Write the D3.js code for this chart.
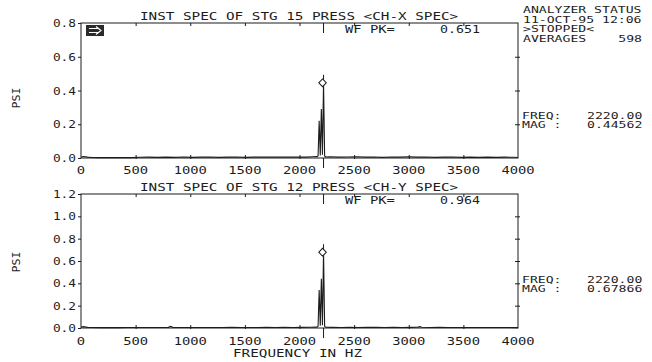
<!DOCTYPE html>
<html>
<head>
<meta charset="utf-8">
<script src="https://cdn.jsdelivr.net/npm/d3@7"></script>
<style>
    body { margin: 0; background: #fff; }
    svg text { font-family: 'DejaVu Sans Mono', monospace; fill: #1c1c1c; }
</style>
</head>
<body>
<svg id="chart"></svg>
<script>
// data

const freqTicks = [0, 500, 1000, 1500, 2000, 2500, 3000, 3500, 4000];
const topYTicks = [0, 0.2, 0.4, 0.6, 0.8];
const bottomYTicks = [0, 0.2, 0.4, 0.6, 0.8, 1.0, 1.2];

const titles = ['INST SPEC OF STG 15 PRESS <CH-X SPEC>', 'INST SPEC OF STG 12 PRESS <CH-Y SPEC>'];
const peakLabels = ['0.651', '0.964'];
const cursorFreq = [2220, 2220];
const cursorMag = [0.44562, 0.67866];
const cursorFreqText = ['2220.00', '2220.00'];
const cursorMagText = ['0.44562', '0.67866'];

const statusLines = ['ANALYZER STATUS', '11-OCT-95 12:06', '>STOPPED<', 'AVERAGES'];
const averages = '598';

const topFreq = [0, 20, 60, 100, 160, 220, 300, 380, 460, 540, 620, 700, 780, 860, 940, 1020, 1100,
    1180, 1260, 1340, 1420, 1500, 1580, 1660, 1740, 1820, 1900, 1980, 2060, 2120, 2160, 2170, 2180,
    2190, 2200, 2210, 2220, 2230, 2240, 2280, 2360, 2440, 2520, 2600, 2680, 2760, 2840, 2920, 3000,
    3080, 3160, 3240, 3320, 3400, 3480, 3560, 3640, 3720, 3800, 3880, 3960, 4000];
const topMag = [0.004, 0.009, 0.005, 0.003, 0.002, 0.003, 0.002, 0.003, 0.002, 0.004, 0.005, 0.004,
    0.005, 0.004, 0.006, 0.004, 0.005, 0.006, 0.004, 0.005, 0.006, 0.004, 0.005, 0.006, 0.005, 0.006,
    0.005, 0.006, 0.005, 0.007, 0.008, 0.012, 0.22, 0.015, 0.29, 0.02, 0.44562, 0.012, 0.006, 0.007,
    0.005, 0.006, 0.007, 0.005, 0.006, 0.004, 0.006, 0.005, 0.007, 0.005, 0.006, 0.004, 0.005, 0.006,
    0.004, 0.005, 0.004, 0.005, 0.004, 0.005, 0.004, 0.003];

const bottomFreq = [0, 20, 60, 100, 180, 260, 340, 420, 500, 580, 660, 740, 800, 820, 840, 900, 980,
    1060, 1140, 1220, 1300, 1380, 1460, 1540, 1620, 1700, 1780, 1860, 1940, 2020, 2100, 2160, 2170,
    2180, 2190, 2200, 2210, 2220, 2230, 2240, 2300, 2380, 2460, 2540, 2620, 2700, 2780, 2860, 2940,
    3020, 3080, 3100, 3120, 3200, 3280, 3360, 3440, 3520, 3600, 3680, 3760, 3840, 3920, 4000];
const bottomMag = [0.006, 0.012, 0.006, 0.004, 0.003, 0.004, 0.003, 0.004, 0.005, 0.004, 0.005,
    0.004, 0.006, 0.014, 0.006, 0.004, 0.005, 0.004, 0.005, 0.004, 0.005, 0.006, 0.004, 0.005, 0.004,
    0.006, 0.005, 0.006, 0.005, 0.006, 0.007, 0.008, 0.015, 0.34, 0.02, 0.44, 0.025, 0.67866, 0.015,
    0.007, 0.006, 0.005, 0.006, 0.005, 0.007, 0.006, 0.005, 0.006, 0.005, 0.006, 0.007, 0.012, 0.007,
    0.005, 0.006, 0.005, 0.004, 0.005, 0.004, 0.005, 0.004, 0.005, 0.004, 0.003];

// sizes

let outerWidth = 652;
let outerHeight = 362;
let plotLeft = 81;
let plotRight = 518;
let ink = '#1c1c1c';

let panels = [
    { top: 23, bottom: 158, yTicks: topYTicks, freq: topFreq, mag: topMag, axisLabelY: 174, psiY: 98, readY: 119 },
    { top: 194, bottom: 328, yTicks: bottomYTicks, freq: bottomFreq, mag: bottomMag, axisLabelY: 345, psiY: 262, readY: 283 }
];

// scales

let xScale = d3.scaleLinear()
    .domain([0, 4000])
    .range([plotLeft, plotRight]);

let svg = d3.select('#chart')
    .attr('width', outerWidth)
    .attr('height', outerHeight);

// stretched plotter-style text: every char gets a fixed advance
function label(g, x, y, s, charWidth, size, anchor) {
    return g.append('text')
        .attr('x', x)
        .attr('y', y)
        .attr('font-size', size)
        .attr('text-anchor', anchor || 'start')
        .attr('textLength', s.length * charWidth)
        .attr('lengthAdjust', 'spacingAndGlyphs')
        .text(s);
}

panels.forEach((p, i) => {
    let yScale = d3.scaleLinear()
        .domain([0, p.yTicks[p.yTicks.length - 1]])
        .range([p.bottom, p.top]);

    let g = svg.append('g');

    // frame
    g.append('rect')
        .attr('x', plotLeft)
        .attr('y', p.top)
        .attr('width', plotRight - plotLeft)
        .attr('height', p.bottom - p.top)
        .style('fill', 'none')
        .style('stroke', ink)
        .style('stroke-width', 1);

    // left axis, ticks pointing out
    g.append('g')
        .attr('transform', `translate(${plotLeft}, 0)`)
        .call(d3.axisLeft(yScale).tickValues(p.yTicks).tickSize(3).tickFormat(d3.format('.1f')))
        .call(a => a.select('.domain').remove())
        .call(a => a.selectAll('.tick line').style('stroke', ink))
        .call(a => a.selectAll('.tick text').remove());

    p.yTicks.forEach(t => {
        label(g, 76, yScale(t) + 4, d3.format('.1f')(t), 7.7, 10, 'end');
    });

    // right axis, ticks crossing the frame
    g.append('g')
        .attr('transform', `translate(${plotRight}, 0)`)
        .call(d3.axisRight(yScale).tickValues(p.yTicks.slice(1, -1)).tickSizeInner(2).tickSizeOuter(0).tickFormat(''))
        .call(a => a.select('.domain').remove())
        .call(a => a.selectAll('.tick line').attr('x1', -3).style('stroke', ink));

    // bottom axis
    g.append('g')
        .attr('transform', `translate(0, ${p.bottom})`)
        .call(d3.axisBottom(xScale).tickValues(freqTicks.slice(1, -1)).tickSizeInner(1).tickSizeOuter(0).tickFormat(''))
        .call(a => a.select('.domain').remove())
        .call(a => a.selectAll('.tick line').attr('y1', -3).style('stroke', ink));

    // top axis
    g.append('g')
        .attr('transform', `translate(0, ${p.top})`)
        .call(d3.axisBottom(xScale).tickValues(freqTicks.slice(1, -1)).tickSize(3).tickFormat(''))
        .call(a => a.select('.domain').remove())
        .call(a => a.selectAll('.tick line').style('stroke', ink));

    freqTicks.forEach(t => {
        label(g, xScale(t), p.axisLabelY, String(t), 8.3, 10, 'middle');
    });

    // spectrum
    let pts = p.freq.map((f, k) => [f, p.mag[k]]);
    g.append('path')
        .datum(pts)
        .attr('d', d3.line().x(d => xScale(d[0])).y(d => yScale(d[1])))
        .style('fill', 'none')
        .style('stroke', ink)
        .style('stroke-width', 1.1);

    // cursor
    let cx = xScale(cursorFreq[i]);
    let cy = yScale(cursorMag[i]);
    g.append('line')
        .attr('x1', cx).attr('x2', cx)
        .attr('y1', p.top).attr('y2', p.top + 10)
        .style('stroke', ink);
    g.append('line')
        .attr('x1', cx).attr('x2', cx)
        .attr('y1', p.bottom).attr('y2', p.bottom + 10)
        .style('stroke', ink);
    g.append('line')
        .attr('x1', cx).attr('x2', cx)
        .attr('y1', cy).attr('y2', cy - 8)
        .style('stroke', ink);
    g.append('path')
        .attr('d', d3.symbol(d3.symbolDiamond, 22)())
        .attr('transform', `translate(${cx - 1}, ${cy}) scale(1.5, 0.9)`)
        .style('fill', '#fff')
        .style('stroke', ink)
        .style('stroke-width', 0.8);

    // texts
    label(g, 140, p.top - 3, titles[i], 8.6, 10);
    label(g, 345, p.top + 10, 'WF PK=', 8.3, 10);
    label(g, 440, p.top + 10, peakLabels[i], 8, 10);

    g.append('text')
        .attr('transform', `translate(20, ${p.psiY}) rotate(-90)`)
        .attr('font-size', 10)
        .attr('text-anchor', 'middle')
        .attr('textLength', 21)
        .attr('lengthAdjust', 'spacingAndGlyphs')
        .text('PSI');

    label(g, 522, p.readY, 'FREQ:', 7.9, 8);
    label(g, 587, p.readY, cursorFreqText[i], 7.9, 8);
    label(g, 522, p.readY + 9, 'MAG :', 7.9, 8);
    label(g, 587, p.readY + 9, cursorMagText[i], 7.9, 8);
});

// marker box at top-left of the first plot
let box = svg.append('g').attr('transform', 'translate(86, 25)');
box.append('rect')
    .attr('width', 18).attr('height', 11)
    .style('fill', '#2a2a2a');
box.append('path')
    .attr('d', 'M3,3.5H12M3,7.5H12M10,1.5L15,5.5L10,9.5')
    .style('fill', 'none')
    .style('stroke', '#fff')
    .style('stroke-width', 1.2);

// status block
let status = svg.append('g');
[13, 22.5, 32, 42].forEach((y, k) => {
    label(status, 523, y, statusLines[k], 7.9, 8);
});
label(status, 642, 42, averages, 7.9, 8, 'end');

label(svg, 233, 357, 'FREQUENCY IN HZ', 8.6, 10);
</script>
</body>
</html>
